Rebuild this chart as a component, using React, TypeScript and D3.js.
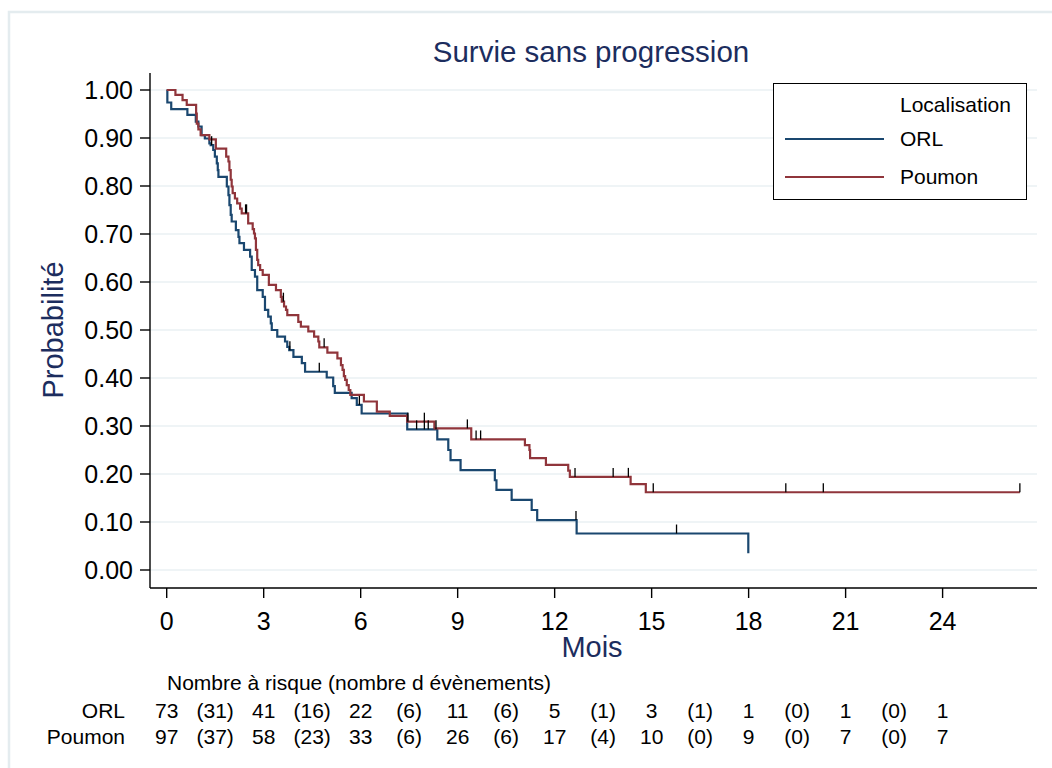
import React from 'react';
import * as d3 from 'd3';

// Kaplan-Meier steps: event time (months) and survival after the event
const orlTimes = [0.02, 0.14, 0.64, 0.9, 0.98, 1.08, 1.18, 1.32, 1.36, 1.44, 1.49, 1.55, 1.58, 1.6, 1.86, 1.91, 1.94, 1.98, 2.01, 2.14, 2.22, 2.25, 2.39, 2.58, 2.63, 2.73, 2.8, 2.97, 3.04, 3.14, 3.22, 3.25, 3.42, 3.66, 3.73, 3.79, 3.92, 4.18, 4.28, 4.95, 5.15, 5.2, 5.72, 5.88, 6.03, 7.44, 8.37, 8.71, 8.78, 9.09, 10.15, 10.2, 10.67, 11.29, 11.46, 12.68, 17.99];
const orlSurv = [0.974, 0.96, 0.948, 0.934, 0.924, 0.906, 0.899, 0.889, 0.885, 0.875, 0.861, 0.847, 0.833, 0.819, 0.799, 0.781, 0.76, 0.74, 0.726, 0.708, 0.694, 0.681, 0.667, 0.653, 0.625, 0.611, 0.583, 0.569, 0.542, 0.528, 0.514, 0.5, 0.486, 0.476, 0.465, 0.458, 0.444, 0.431, 0.413, 0.401, 0.383, 0.369, 0.358, 0.344, 0.326, 0.293, 0.272, 0.25, 0.229, 0.208, 0.187, 0.167, 0.146, 0.125, 0.104, 0.076, 0.035];
const orlCensored = [1.39, 3.81, 4.72, 5.96, 7.73, 7.97, 8.09, 8.33, 12.66, 15.77];
const orlEnd = 17.99;

const poumonTimes = [0.27, 0.49, 0.62, 0.91, 0.93, 0.98, 1.05, 1.32, 1.52, 1.84, 1.91, 1.94, 1.98, 2.01, 2.04, 2.11, 2.18, 2.27, 2.32, 2.52, 2.66, 2.7, 2.73, 2.76, 2.8, 2.83, 2.89, 2.97, 3.16, 3.38, 3.53, 3.56, 3.63, 3.69, 3.73, 4.07, 4.15, 4.38, 4.56, 4.69, 4.72, 4.97, 5.28, 5.39, 5.44, 5.48, 5.52, 5.57, 5.63, 5.68, 6.1, 6.5, 6.9, 7.44, 8.28, 9.42, 11.08, 11.22, 11.24, 11.73, 12.42, 12.47, 14.35, 14.82];
const poumonSurv = [0.99, 0.979, 0.969, 0.951, 0.93, 0.918, 0.906, 0.897, 0.878, 0.861, 0.851, 0.833, 0.813, 0.799, 0.785, 0.774, 0.764, 0.753, 0.743, 0.722, 0.71, 0.701, 0.691, 0.667, 0.646, 0.635, 0.625, 0.615, 0.594, 0.583, 0.569, 0.559, 0.549, 0.542, 0.531, 0.517, 0.507, 0.497, 0.486, 0.476, 0.464, 0.453, 0.441, 0.427, 0.417, 0.404, 0.396, 0.385, 0.375, 0.365, 0.351, 0.33, 0.321, 0.309, 0.295, 0.272, 0.26, 0.25, 0.233, 0.219, 0.207, 0.194, 0.179, 0.162];
const poumonCensored = [2.44, 2.47, 3.61, 4.87, 7.46, 7.97, 9.3, 9.57, 9.71, 12.63, 13.81, 14.28, 15.05, 19.15, 20.31, 26.39];
const poumonEnd = 26.39;

// number at risk table
const tableTimes = [0, 3, 6, 9, 12, 15, 18, 21, 24];
const orlAtRisk = ['73', '41', '22', '11', '5', '3', '1', '1', '1'];
const orlEvents = ['(31)', '(16)', '(6)', '(6)', '(1)', '(1)', '(0)', '(0)'];
const poumonAtRisk = ['97', '58', '33', '26', '17', '10', '9', '7', '7'];
const poumonEvents = ['(37)', '(23)', '(6)', '(6)', '(4)', '(0)', '(0)', '(0)'];

const xTicks = [0, 3, 6, 9, 12, 15, 18, 21, 24];
const yTicks = [0, 0.1, 0.2, 0.3, 0.4, 0.5, 0.6, 0.7, 0.8, 0.9, 1.0];

const W = 1052;
const H = 768;
const font = 'Liberation Sans, Arial, sans-serif';
const navy = '#1c2d5e';
const orlColor = '#1a476f';
const poumonColor = '#90353b';

const plot = { left: 150, right: 1037, top: 73, bottom: 588 };

function stepPoints(times: number[], surv: number[], end: number): [number, number][] {
  const pts: [number, number][] = [[0, 1]];
  times.forEach((t, i) => pts.push([t, surv[i]]));
  const last = pts[pts.length - 1];
  if (end > last[0]) pts.push([end, last[1]]);
  return pts;
}

function survAt(times: number[], surv: number[], t: number) {
  let s = 1;
  times.forEach((tt, i) => {
    if (tt <= t) s = surv[i];
  });
  return s;
}

export default function App() {
  const x = d3.scaleLinear().domain([0, 24]).range([166.7, 942.6]);
  const y = d3.scaleLinear().domain([0, 1]).range([570, 90]);

  const line = d3.line<[number, number]>()
    .x(d => x(d[0]))
    .y(d => y(d[1]))
    .curve(d3.curveStepAfter);

  const series = [
    { name: 'ORL', color: orlColor, times: orlTimes, surv: orlSurv, cens: orlCensored, end: orlEnd },
    { name: 'Poumon', color: poumonColor, times: poumonTimes, surv: poumonSurv, cens: poumonCensored, end: poumonEnd },
  ];

  const fmt = d3.format('.2f');

  return (
    <svg width={W} height={H} style={{ position: 'absolute', left: 0, top: 0, background: '#fff' }} fontFamily={font}>
      {/* graph region outline (cropped) */}
      <path d={`M9,${H} V12 H${W}`} fill="none" stroke="#e4ecef" strokeWidth={2.5} />

      {/* title */}
      <text x={591} y={62} textAnchor="middle" fontSize={29.5} fill={navy}>Survie sans progression</text>

      {/* gridlines */}
      {yTicks.map(v => (
        <line key={'g' + v} x1={plot.left} x2={plot.right} y1={y(v)} y2={y(v)} stroke="#eaf1f3" strokeWidth={1.5} />
      ))}

      {/* curves */}
      {series.map(s => (
        <path key={s.name} d={line(stepPoints(s.times, s.surv, s.end)) || ''} fill="none" stroke={s.color} strokeWidth={2.2} />
      ))}

      {/* censoring marks */}
      {series.map(s => s.cens.map((t, i) => {
        const sv = survAt(s.times, s.surv, t);
        return <line key={s.name + 'c' + i} x1={x(t)} x2={x(t)} y1={y(sv)} y2={y(sv) - 9} stroke="#000" strokeWidth={1.3} />;
      }))}

      {/* axes */}
      <line x1={plot.left} x2={plot.left} y1={plot.top} y2={plot.bottom} stroke="#000" strokeWidth={1.4} />
      <line x1={plot.left} x2={plot.right} y1={plot.bottom} y2={plot.bottom} stroke="#000" strokeWidth={1.4} />
      {yTicks.map(v => (
        <g key={'y' + v}>
          <line x1={plot.left - 10} x2={plot.left} y1={y(v)} y2={y(v)} stroke="#000" strokeWidth={1.4} />
          <text x={133} y={y(v)} dy="0.36em" textAnchor="end" fontSize={25} fill="#000">{fmt(v)}</text>
        </g>
      ))}
      {xTicks.map(v => (
        <g key={'x' + v}>
          <line x1={x(v)} x2={x(v)} y1={plot.bottom} y2={plot.bottom + 10} stroke="#000" strokeWidth={1.4} />
          <text x={x(v)} y={630} textAnchor="middle" fontSize={25} fill="#000">{v}</text>
        </g>
      ))}

      {/* axis titles */}
      <text x={592} y={657} textAnchor="middle" fontSize={29} fill={navy}>Mois</text>
      <text transform="translate(63,330) rotate(-90)" textAnchor="middle" fontSize={29} fill={navy}>Probabilité</text>

      {/* legend */}
      <rect x={773.5} y={83.5} width={253} height={116} fill="#fff" stroke="#000" strokeWidth={1} />
      <text x={900} y={112} fontSize={21} fill="#000">Localisation</text>
      {series.map((s, i) => (
        <g key={'l' + s.name}>
          <line x1={785} x2={884} y1={139 + i * 38} y2={139 + i * 38} stroke={s.color} strokeWidth={2.2} />
          <text x={900} y={146 + i * 38} fontSize={21} fill="#000">{s.name}</text>
        </g>
      ))}

      {/* number at risk */}
      <text x={167} y={690} fontSize={21} fill="#000">Nombre à risque (nombre d évènements)</text>
      <text x={125} y={718} textAnchor="end" fontSize={21} fill="#000">ORL</text>
      <text x={125} y={744} textAnchor="end" fontSize={21} fill="#000">Poumon</text>
      {tableTimes.map((t, i) => (
        <g key={'r' + t}>
          <text x={x(t)} y={718} textAnchor="middle" fontSize={21} fill="#000">{orlAtRisk[i]}</text>
          <text x={x(t)} y={744} textAnchor="middle" fontSize={21} fill="#000">{poumonAtRisk[i]}</text>
        </g>
      ))}
      {orlEvents.map((e, i) => (
        <g key={'e' + i}>
          <text x={x(tableTimes[i] + 1.5)} y={718} textAnchor="middle" fontSize={21} fill="#000">{e}</text>
          <text x={x(tableTimes[i] + 1.5)} y={744} textAnchor="middle" fontSize={21} fill="#000">{poumonEvents[i]}</text>
        </g>
      ))}
    </svg>
  );
}
